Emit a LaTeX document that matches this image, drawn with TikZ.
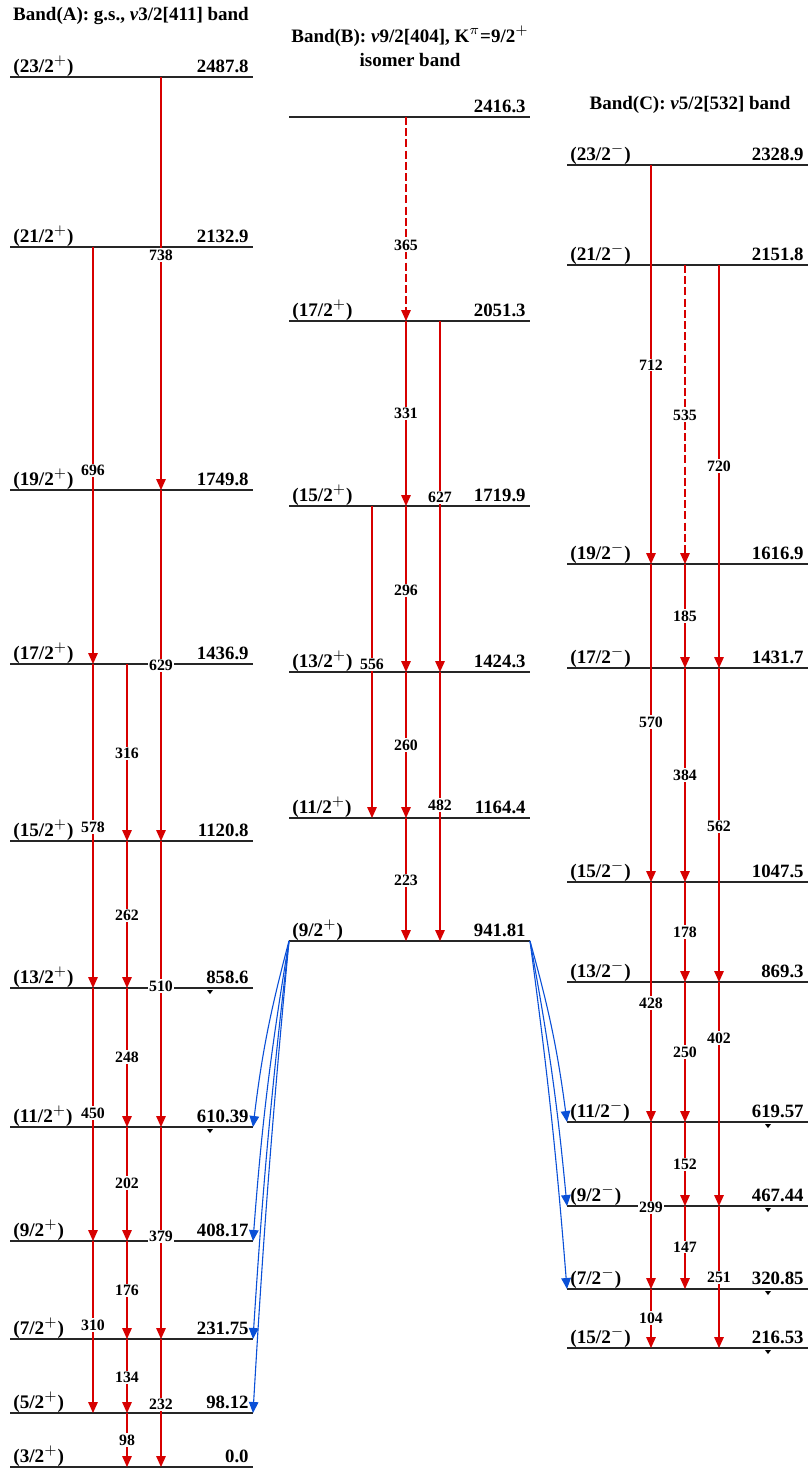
\documentclass[tikz,border=0pt]{standalone}
\usepackage{fontspec}
\setmainfont{Liberation Serif}
\usetikzlibrary{arrows.meta}
\definecolor{trred}{RGB}{215,0,0}
\definecolor{trblue}{RGB}{10,80,215}
% level: name, x1, x2, y, spin, energy
\newcommand{\lev}[6]{%
  \draw[lvl] (#2,#4) coordinate (#1l) -- (#3,#4) coordinate (#1r);
  \node[spn, anchor=base west] (#1s) at (#2+3,#4-5) {#5};
  \node[eng, anchor=base east] (#1e) at (#3-4,#4-5) {#6};}
% gamma: [opts], column, from, to, label y, label
\newcommand{\gam}[6][]{%
  \draw[tr,#1] (#2 |- #3l) -- (#2 |- #4l) node[gl] (g#6) at (#2 |- 0,#5) {#6};}
\newcommand{\isom}[2]{\fill (#1-3,#2+2) -- (#1+3,#2+2) -- (#1,#2+6) -- cycle;}

\begin{document}
\begin{tikzpicture}[x=0.5pt,y=-0.5pt,
  lvl/.style={line width=0.7pt, black!85},
  spn/.style={font=\fontsize{9.6}{10}\selectfont\bfseries, inner sep=0pt},
  eng/.style={font=\fontsize{9.4}{10}\selectfont\bfseries, inner sep=0pt},
  hd/.style={font=\fontsize{9.5}{12}\selectfont\bfseries, align=center, inner sep=0pt},
  gl/.style={font=\fontsize{7.9}{8}\selectfont\bfseries, text=black, fill=white, inner sep=0.6pt},
  tr/.style={trred, line width=0.6pt, -{Triangle[length=5.5pt,width=4.8pt]}},
  dsh/.style={dash pattern=on 4pt off 1.6pt},
  bl/.style={trblue, line width=0.55pt, -{Triangle[length=5.5pt,width=4.8pt]}}]
\useasboundingbox (0,0) rectangle (810,1469);

% headers
\node[hd] (hA) at (131,16) {Band(A): g.s., \textit{ν}3/2[411] band};
\node[hd] (hB) at (410,46) {Band(B): \textit{ν}9/2[404], K$^{\pi}$=9/2$^{+}$\\isomer band};
\node[hd] (hC) at (690,105) {Band(C): \textit{ν}5/2[532] band};

% columns
\coordinate (cA1) at (93,0);  \coordinate (cA2) at (127,0); \coordinate (cA3) at (161,0);
\coordinate (cB1) at (372,0); \coordinate (cB2) at (406,0); \coordinate (cB3) at (440,0);
\coordinate (cC1) at (651,0); \coordinate (cC2) at (685,0); \coordinate (cC3) at (719,0);

% band A
\lev{A2487}{10}{253}{77}{(23/2$^{+}$)}{2487.8}
\lev{A2132}{10}{253}{247}{(21/2$^{+}$)}{2132.9}
\lev{A1749}{10}{253}{490}{(19/2$^{+}$)}{1749.8}
\lev{A1436}{10}{253}{664}{(17/2$^{+}$)}{1436.9}
\lev{A1120}{10}{253}{841}{(15/2$^{+}$)}{1120.8}
\lev{A858}{10}{253}{988}{(13/2$^{+}$)}{858.6}
\lev{A610}{10}{253}{1127}{(11/2$^{+}$)}{610.39}
\lev{A408}{10}{253}{1241}{(9/2$^{+}$)}{408.17}
\lev{A231}{10}{253}{1339}{(7/2$^{+}$)}{231.75}
\lev{A98}{10}{253}{1413}{(5/2$^{+}$)}{98.12}
\lev{A0}{10}{253}{1467}{(3/2$^{+}$)}{0.0}
\isom{210}{988} \isom{210}{1127}

% band B
\lev{B2416}{289}{530}{117}{}{2416.3}
\lev{B2051}{289}{530}{321}{(17/2$^{+}$)}{2051.3}
\lev{B1719}{289}{530}{506}{(15/2$^{+}$)}{1719.9}
\lev{B1424}{289}{530}{672}{(13/2$^{+}$)}{1424.3}
\lev{B1164}{289}{530}{818}{(11/2$^{+}$)}{1164.4}
\lev{B941}{289}{530}{941}{(9/2$^{+}$)}{941.81}

% band C
\lev{C2328}{567}{808}{165}{(23/2$^{-}$)}{2328.9}
\lev{C2151}{567}{808}{265}{(21/2$^{-}$)}{2151.8}
\lev{C1616}{567}{808}{564}{(19/2$^{-}$)}{1616.9}
\lev{C1431}{567}{808}{668}{(17/2$^{-}$)}{1431.7}
\lev{C1047}{567}{808}{882}{(15/2$^{-}$)}{1047.5}
\lev{C869}{567}{808}{982}{(13/2$^{-}$)}{869.3}
\lev{C619}{567}{808}{1122}{(11/2$^{-}$)}{619.57}
\lev{C467}{567}{808}{1206}{(9/2$^{-}$)}{467.44}
\lev{C320}{567}{808}{1289}{(7/2$^{-}$)}{320.85}
\lev{C216}{567}{808}{1348}{(15/2$^{-}$)}{216.53}
\isom{768}{1122} \isom{768}{1206} \isom{768}{1289} \isom{768}{1348}

% transitions in band A
\gam{cA3}{A2487}{A1749}{255}{738}
\gam{cA1}{A2132}{A1436}{470}{696}
\gam{cA3}{A1749}{A1120}{665}{629}
\gam{cA2}{A1436}{A1120}{753}{316}
\gam{cA1}{A1436}{A858}{827}{578}
\gam{cA2}{A1120}{A858}{915}{262}
\gam{cA3}{A1120}{A610}{986}{510}
\gam{cA2}{A858}{A610}{1057}{248}
\gam{cA1}{A858}{A408}{1113}{450}
\gam{cA2}{A610}{A408}{1183}{202}
\gam{cA3}{A610}{A231}{1236}{379}
\gam{cA2}{A408}{A231}{1290}{176}
\gam{cA1}{A408}{A98}{1325}{310}
\gam{cA2}{A231}{A98}{1377}{134}
\gam{cA3}{A231}{A0}{1404}{232}
\gam{cA2}{A98}{A0}{1440}{98}

% transitions in band B
\gam[dsh]{cB2}{B2416}{B2051}{245}{365}
\gam{cB2}{B2051}{B1719}{413}{331}
\gam{cB3}{B2051}{B1424}{497}{627}
\gam{cB2}{B1719}{B1424}{590}{296}
\gam{cB1}{B1719}{B1164}{664}{556}
\gam{cB2}{B1424}{B1164}{745}{260}
\gam{cB3}{B1424}{B941}{805}{482}
\gam{cB2}{B1164}{B941}{880}{223}

% transitions in band C
\gam{cC1}{C2328}{C1616}{365}{712}
\gam[dsh]{cC2}{C2151}{C1616}{415}{535}
\gam{cC3}{C2151}{C1431}{466}{720}
\gam{cC2}{C1616}{C1431}{616}{185}
\gam{cC1}{C1616}{C1047}{722}{570}
\gam{cC2}{C1431}{C1047}{775}{384}
\gam{cC3}{C1431}{C869}{826}{562}
\gam{cC2}{C1047}{C869}{932}{178}
\gam{cC1}{C1047}{C619}{1003}{428}
\gam{cC3}{C869}{C467}{1038}{402}
\gam{cC2}{C869}{C619}{1052}{250}
\gam{cC2}{C619}{C467}{1164}{152}
\gam{cC1}{C619}{C320}{1207}{299}
\gam{cC2}{C467}{C320}{1247}{147}
\gam{cC3}{C467}{C216}{1277}{251}
\gam{cC1}{C320}{C216}{1318}{104}

% interband transitions from the isomer
\draw[bl] (B941l) to[bend right=4] (A610r);
\draw[bl] (B941l) to[bend right=2.5] (A408r);
\draw[bl] (B941l) to[bend right=1.5] (A231r);
\draw[bl] (B941l) to[bend right=1] (A98r);
\draw[bl] (B941r) to[bend left=4] (C619l);
\draw[bl] (B941r) to[bend left=2.5] (C467l);
\draw[bl] (B941r) to[bend left=1.5] (C320l);
\end{tikzpicture}
\end{document}
